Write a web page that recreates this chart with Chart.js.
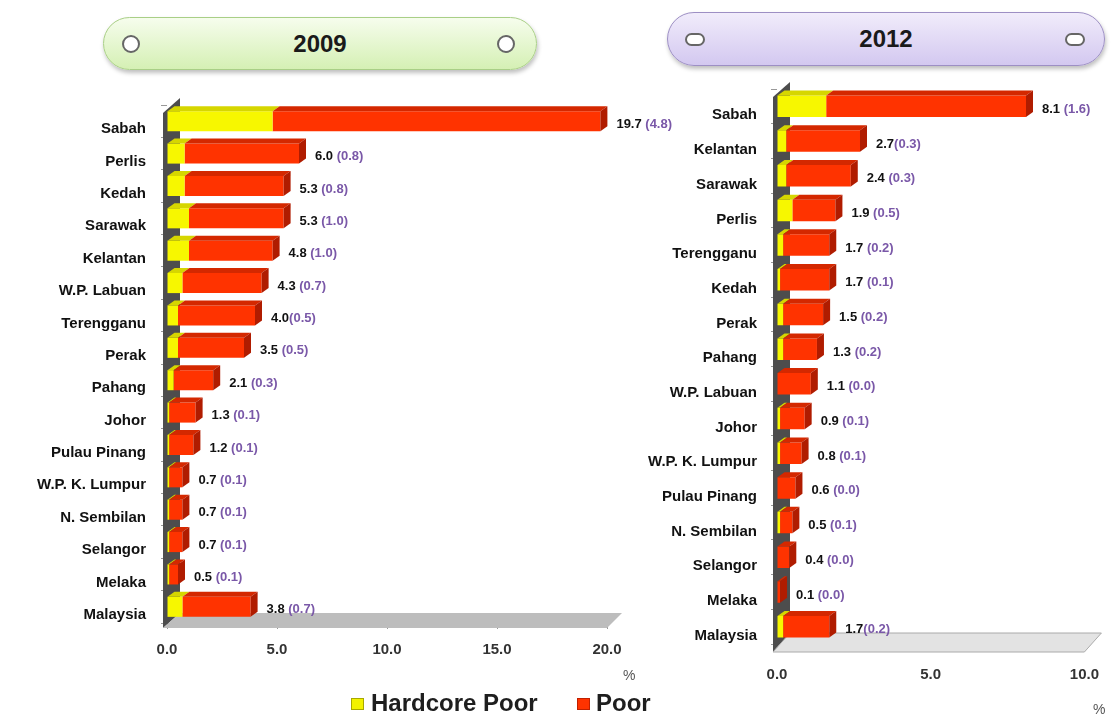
<!DOCTYPE html>
<html>
<head>
<meta charset="utf-8">
<script src="https://cdn.jsdelivr.net/npm/chart.js@4.4.1/dist/chart.umd.min.js"></script>
<style>
  html,body{margin:0;padding:0;background:#fff;width:1115px;height:721px;overflow:hidden;font-family:"Liberation Sans",Arial,sans-serif;}
  .pill{position:absolute;border-radius:28px;box-shadow:1px 3px 4px rgba(0,0,0,0.25);box-sizing:border-box;}
  .pill .t{position:absolute;left:0;right:0;text-align:center;font-weight:bold;font-size:24px;color:#1a1a1a;}
  .dot{position:absolute;background:#fff;border:2px solid #666;box-sizing:border-box;}
  .pct{position:absolute;font-size:14px;color:#555;}
  .leg{position:absolute;font-weight:bold;font-size:24px;color:#1e1e1e;}
  .sq{position:absolute;width:13px;height:12px;box-sizing:border-box;}
  canvas{position:absolute;}
</style>
</head>
<body>
<div class="pill" style="left:103px;top:17px;width:434px;height:53px;background:linear-gradient(#f6fded,#d5f0b4);border:1.5px solid #a9cf86;">
  <div class="t" style="top:12px;">2009</div>
  <div class="dot" style="left:18px;top:17px;width:18px;height:18px;border-radius:9px;"></div>
  <div class="dot" style="left:393px;top:17px;width:18px;height:18px;border-radius:9px;"></div>
</div>
<div class="pill" style="left:667px;top:12px;width:438px;height:54px;background:linear-gradient(#f1ecfb,#d3c8f0);border:1.5px solid #9d8fc4;">
  <div class="t" style="top:12px;">2012</div>
  <div class="dot" style="left:17px;top:20px;width:20px;height:13px;border-radius:7px;"></div>
  <div class="dot" style="left:397px;top:20px;width:20px;height:13px;border-radius:7px;"></div>
</div>

<canvas id="c2009" width="720" height="600" style="left:0px;top:80px;width:720px;height:600px;"></canvas>
<canvas id="c2012" width="515" height="661" style="left:600px;top:60px;width:515px;height:661px;"></canvas>

<div class="pct" style="left:623px;top:667px;">%</div>
<div class="pct" style="left:1093px;top:701px;">%</div>

<div class="sq" style="left:351px;top:698px;background:#f2f200;border:1px solid #a8a800;"></div>
<div class="leg" style="left:371px;top:689px;">Hardcore Poor</div>
<div class="sq" style="left:577px;top:698px;background:#ff3300;border:1px solid #c02000;"></div>
<div class="leg" style="left:596px;top:689px;">Poor</div>

<script>
// ---------- DATA ----------
const cats2009 = ['Sabah','Perlis','Kedah','Sarawak','Kelantan','W.P. Labuan','Terengganu','Perak','Pahang','Johor','Pulau Pinang','W.P. K. Lumpur','N. Sembilan','Selangor','Melaka','Malaysia'];
const poor2009 = [19.7, 6.0, 5.3, 5.3, 4.8, 4.3, 4.0, 3.5, 2.1, 1.3, 1.2, 0.7, 0.7, 0.7, 0.5, 3.8];
const hard2009 = [4.8, 0.8, 0.8, 1.0, 1.0, 0.7, 0.5, 0.5, 0.3, 0.1, 0.1, 0.1, 0.1, 0.1, 0.1, 0.7];
const sep2009  = [' ',' ',' ',' ',' ',' ','',' ',' ',' ',' ',' ',' ',' ',' ',' '];

const cats2012 = ['Sabah','Kelantan','Sarawak','Perlis','Terengganu','Kedah','Perak','Pahang','W.P. Labuan','Johor','W.P. K. Lumpur','Pulau Pinang','N. Sembilan','Selangor','Melaka','Malaysia'];
const poor2012 = [8.1, 2.7, 2.4, 1.9, 1.7, 1.7, 1.5, 1.3, 1.1, 0.9, 0.8, 0.6, 0.5, 0.4, 0.1, 1.7];
const hard2012 = [1.6, 0.3, 0.3, 0.5, 0.2, 0.1, 0.2, 0.2, 0.0, 0.1, 0.1, 0.0, 0.1, 0.0, 0.0, 0.2];
const sep2012  = [' ','',' ',' ',' ',' ',' ',' ',' ',' ',' ',' ',' ',' ',' ',''];

const xMax2009 = 20, xMax2012 = 10, xStep = 5;

// ---------- DRAWING ----------
const FONT = '"Liberation Sans", Arial, sans-serif';
const YELLOW = '#f7f700', YELLOW_TOP = '#d6d600';
const RED = '#ff3300', RED_TOP = '#d42800', RED_SIDE = '#b01c00';

function make(id, cats, poor, hard, sep, xMax, g) {
  const rest = poor.map((p, i) => Math.round((p - hard[i]) * 10) / 10);
  const deco = {
    id: 'deco',
    beforeDatasetsDraw(chart) {
      const {ctx, chartArea: a} = chart;
      const L = a.left, R = a.right, T = a.top, B = a.bottom;
      ctx.save();
      ctx.fillStyle = '#4d4d4d';
      ctx.beginPath();
      ctx.moveTo(L - 4, B + g.fDown);
      ctx.lineTo(L - 4, T + 8);
      ctx.lineTo(L + 13, T - 7);
      ctx.lineTo(L + 13, B - g.fUp);
      ctx.closePath();
      ctx.fill();
      ctx.fillStyle = g.floor;
      ctx.strokeStyle = g.floorStroke;
      ctx.lineWidth = 1;
      ctx.beginPath();
      ctx.moveTo(L - 4, B + g.fDown);
      ctx.lineTo(R, B + g.fDown);
      ctx.lineTo(R + g.skew, B - g.fUp);
      ctx.lineTo(L + 13, B - g.fUp);
      ctx.closePath();
      ctx.fill();
      if (g.floorStroke) ctx.stroke();
      ctx.restore();
    },
    afterDatasetsDraw(chart) {
      const {ctx} = chart;
      const dx = 7, dy = 5;
      ctx.save();
      const m0 = chart.getDatasetMeta(0), m1 = chart.getDatasetMeta(1);
      for (let i = 0; i < cats.length; i++) {
        const segs = [[m0.data[i], YELLOW_TOP], [m1.data[i], RED_TOP]];
        let endX = null, top = 0, bot = 0;
        segs.forEach(([el, col]) => {
          const p = el.getProps(['x', 'y', 'base', 'height'], true);
          top = p.y - p.height / 2; bot = p.y + p.height / 2;
          if (Math.abs(p.x - p.base) < 0.5) return;
          ctx.fillStyle = col;
          ctx.beginPath();
          ctx.moveTo(p.base, top);
          ctx.lineTo(p.x, top);
          ctx.lineTo(p.x + dx, top - dy);
          ctx.lineTo(p.base + dx, top - dy);
          ctx.closePath();
          ctx.fill();
          endX = p.x;
        });
        if (endX !== null) {
          ctx.fillStyle = RED_SIDE;
          ctx.beginPath();
          ctx.moveTo(endX, top);
          ctx.lineTo(endX + dx, top - dy);
          ctx.lineTo(endX + dx, bot - dy);
          ctx.lineTo(endX, bot);
          ctx.closePath();
          ctx.fill();
        }
        const yMid = m1.data[i].y + 3;
        const x0 = (endX !== null ? endX : m1.data[i].x) + dx + 9;
        ctx.font = 'bold 13px ' + FONT;
        ctx.textBaseline = 'middle';
        ctx.textAlign = 'left';
        const s1 = poor[i].toFixed(1) + sep[i];
        ctx.fillStyle = '#111';
        ctx.fillText(s1, x0, yMid);
        const w = ctx.measureText(s1).width;
        ctx.fillStyle = '#7a58a8';
        ctx.fillText('(' + hard[i].toFixed(1) + ')', x0 + w, yMid);
      }
      ctx.restore();
    }
  };
  return new Chart(document.getElementById(id), {
    type: 'bar',
    data: {
      labels: cats,
      datasets: [
        {label: 'Hardcore Poor', data: hard, backgroundColor: YELLOW},
        {label: 'Poor', data: rest, backgroundColor: RED}
      ]
    },
    options: {
      indexAxis: 'y',
      responsive: false,
      animation: false,
      events: [],
      layout: {padding: {top: g.top, right: g.right, left: 0, bottom: 0}},
      datasets: {bar: {categoryPercentage: 1, barPercentage: g.barPct}},
      plugins: {legend: {display: false}, tooltip: {enabled: false}},
      scales: {
        x: {
          stacked: true, min: 0, max: xMax,
          afterFit(s) { s.height = g.xh; },
          ticks: {stepSize: xStep, callback: v => Number(v).toFixed(1), color: '#333',
                  font: {family: FONT, size: 15, weight: 'bold'}, padding: g.xpad},
          grid: {drawOnChartArea: false, drawTicks: true, tickLength: 6, color: '#999'},
          border: {display: true, color: '#aaa'}
        },
        y: {
          stacked: true,
          afterFit(s) { s.width = g.yw; },
          ticks: {color: '#111', font: {family: FONT, size: 15, weight: 'bold'}, padding: g.ypad, labelOffset: g.lo},
          grid: {drawOnChartArea: false, drawTicks: true, tickLength: 6, color: '#999', offset: true},
          border: {display: false}
        }
      }
    },
    plugins: [deco]
  });
}

make('c2009', cats2009, poor2009, hard2009, sep2009, xMax2009,
  {top: 25, right: 113, yw: 167, xh: 57, xpad: 12, ypad: 15, lo: 8, barPct: 0.62,
   fDown: 5, fUp: 10, skew: 15, floor: '#bdbdbd', floorStroke: null});
make('c2012', cats2012, poor2012, hard2012, sep2012, xMax2012,
  {top: 29, right: 30, yw: 177, xh: 77, xpad: 16, ypad: 14, lo: 9, barPct: 0.62,
   fDown: 8, fUp: 11, skew: 17, floor: '#e3e3e3', floorStroke: '#aaa'});
</script>
</body>
</html>
